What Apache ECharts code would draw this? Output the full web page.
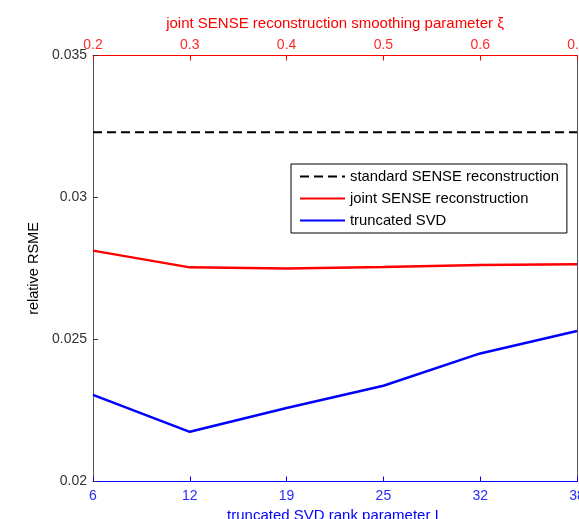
<!DOCTYPE html>
<html>
<head>
<meta charset="utf-8">
<script src="https://cdn.jsdelivr.net/npm/echarts@6/dist/echarts.min.js"></script>
<style>
  html, body { margin: 0; padding: 0; background: #fff; }
  #chart { width: 579px; height: 519px; }
</style>
</head>
<body>
<div id="chart"></div>
<script>
// tick labels of the two x axes
const xiTicks = ['0.2', '0.3', '0.4', '0.5', '0.6', '0.7'];
const rankTicks = ['6', '12', '19', '25', '32', '38'];

// relative RSME values
const standardSense = 0.0323;
const jointSense = [0.02813, 0.02754, 0.02750, 0.02755, 0.02762, 0.02765];
const truncSvd = [0.02305, 0.02175, 0.02259, 0.02337, 0.02451, 0.02530];

const font = 'Liberation Sans, Arial, sans-serif';
const chart = echarts.init(document.getElementById('chart'));

chart.setOption({
    animation: false,
    textStyle: {fontFamily: font},
    grid: {
        left: 93, right: 2, top: 55.5, bottom: 37.5,
        containLabel: false,
        outerBoundsMode: 'none'
    },
    legend: {
        orient: 'vertical',
        left: 291, top: 164,
        padding: [5, 8, 5, 8],
        itemGap: 7,
        itemWidth: 45,
        itemHeight: 14,
        borderColor: '#000',
        borderWidth: 1,
        borderRadius: 0,
        backgroundColor: '#fff',
        itemStyle: {opacity: 0},
        textStyle: {fontSize: 14.8, color: '#000', fontFamily: font},
        data: ['standard SENSE reconstruction', 'joint SENSE reconstruction', 'truncated SVD']
    },
    xAxis: [{
        type: 'category',
        position: 'bottom',
        data: rankTicks,
        boundaryGap: false,
        name: 'truncated SVD rank parameter L',
        nameLocation: 'middle',
        nameGap: 22,
        nameTextStyle: {color: '#0000ff', fontSize: 15, fontFamily: font},
        axisLine: {lineStyle: {color: '#0000ff', width: 1}},
        axisTick: {inside: true, length: 5, lineStyle: {color: '#0000ff'}},
        axisLabel: {color: '#2a2aff', fontSize: 14, margin: 8, showMaxLabel: true, fontFamily: font},
        splitLine: {show: false}
    }, {
        type: 'category',
        position: 'top',
        data: xiTicks,
        boundaryGap: false,
        name: 'joint SENSE reconstruction smoothing parameter ξ',
        nameLocation: 'middle',
        nameGap: 24,
        nameTextStyle: {color: '#ff0000', fontSize: 15, fontFamily: font},
        axisLine: {lineStyle: {color: '#ff0000', width: 1}},
        axisTick: {inside: true, length: 5, lineStyle: {color: '#ff0000'}},
        axisLabel: {color: '#ff2a2a', fontSize: 14, margin: 3, showMaxLabel: true, fontFamily: font},
        splitLine: {show: false}
    }],
    yAxis: [{
        type: 'value',
        min: 0.02, max: 0.035, interval: 0.005,
        name: 'relative RSME',
        nameLocation: 'middle',
        nameGap: 50,
        nameTextStyle: {color: '#000', fontSize: 14.5, fontFamily: font},
        axisLine: {show: true, lineStyle: {color: '#555', width: 1}},
        axisTick: {show: true, inside: true, length: 5, lineStyle: {color: '#333'}},
        axisLabel: {color: '#333', fontSize: 14, margin: 6, fontFamily: font},
        splitLine: {show: false}
    }, {
        type: 'value',
        position: 'right',
        min: 0.02, max: 0.035, interval: 0.005,
        axisLine: {show: true, lineStyle: {color: '#555', width: 1}},
        axisTick: {show: false},
        axisLabel: {show: false},
        splitLine: {show: false}
    }],
    series: [{
        name: 'standard SENSE reconstruction',
        type: 'line',
        xAxisIndex: 1,
        yAxisIndex: 0,
        data: xiTicks.map(() => standardSense),
        symbol: 'none',
        lineStyle: {color: '#000', width: 2, type: [9, 5]},
        itemStyle: {color: '#000'}
    }, {
        name: 'joint SENSE reconstruction',
        type: 'line',
        xAxisIndex: 1,
        yAxisIndex: 0,
        data: jointSense,
        symbol: 'none',
        lineStyle: {color: '#ff0000', width: 2.5},
        itemStyle: {color: '#ff0000'}
    }, {
        name: 'truncated SVD',
        type: 'line',
        xAxisIndex: 0,
        yAxisIndex: 0,
        data: truncSvd,
        symbol: 'none',
        lineStyle: {color: '#0000ff', width: 2.5},
        itemStyle: {color: '#0000ff'}
    }]
});
</script>
</body>
</html>
